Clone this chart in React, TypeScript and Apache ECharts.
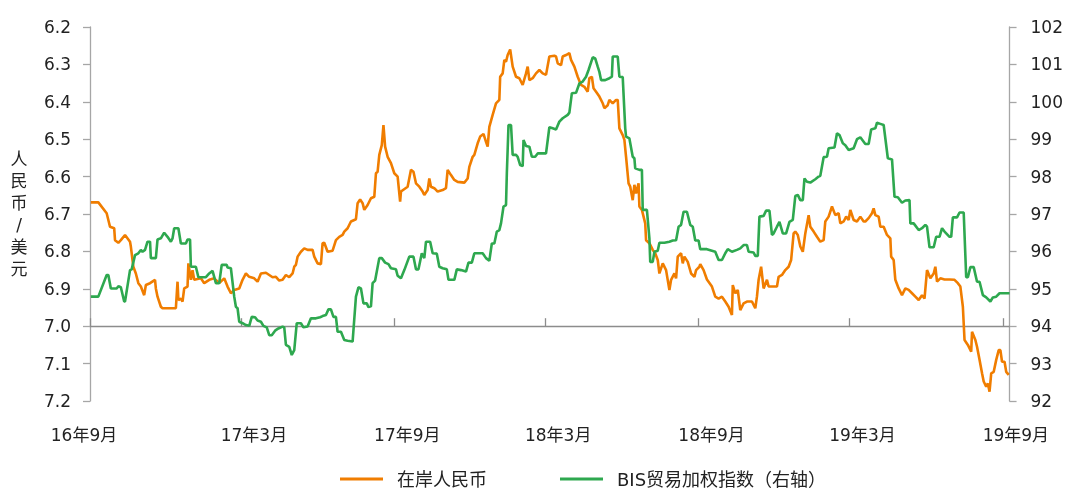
import React, { useEffect, useRef } from 'react';
import * as echarts from 'echarts';

// ---- data ----
const START_DATE = '2016-09-01';
const END_DATE = '2019-09-09';
const xTickDates = ['2016-09-01', '2017-03-01', '2017-09-01', '2018-03-01', '2018-09-01', '2019-03-01', '2019-09-01'];
const xTickLabels = ['16年9月', '17年3月', '17年9月', '18年3月', '18年9月', '19年3月', '19年9月'];
const seriesNames = ['在岸人民币', 'BIS贸易加权指数（右轴）'];
const leftAxisName = '人民币/美元';
const leftRange = [6.2, 7.2];
const rightRange = [92, 102];

// [days since 2016-09-01, CNY per USD]
const cnyPoints: [number, number][] = [
  [1,6.669],[10,6.669],[20,6.698],[24,6.734],[29,6.738],[30,6.770],[34,6.777],[37,6.770],[42,6.756],[48,6.774],[49,6.787],[52,6.841],[55,6.859],[58,6.885],[61,6.894],[65,6.917],[67,6.890],[72,6.885],[78,6.876],[79,6.899],[81,6.921],[85,6.948],[87,6.952],[103,6.952],[105,6.881],[106,6.930],[109,6.926],[111,6.934],[113,6.899],[117,6.894],[118,6.832],[121,6.876],[123,6.850],[125,6.876],[133,6.872],[137,6.885],[143,6.876],[149,6.872],[155,6.885],[161,6.872],[165,6.894],[169,6.912],[173,6.903],[179,6.899],[183,6.876],[187,6.859],[191,6.868],[197,6.872],[201,6.881],[205,6.859],[211,6.857],[215,6.863],[219,6.869],[223,6.868],[227,6.878],[231,6.876],[235,6.863],[239,6.869],[243,6.859],[245,6.841],[247,6.836],[249,6.814],[253,6.801],[257,6.792],[261,6.796],[267,6.796],[269,6.814],[273,6.832],[277,6.834],[279,6.778],[281,6.777],[285,6.801],[291,6.798],[295,6.770],[299,6.761],[303,6.756],[305,6.747],[309,6.738],[313,6.720],[319,6.714],[321,6.671],[324,6.661],[327,6.671],[329,6.689],[333,6.676],[337,6.658],[341,6.654],[343,6.591],[345,6.587],[347,6.542],[350,6.516],[352,6.462],[354,6.520],[357,6.547],[361,6.564],[365,6.591],[369,6.600],[372,6.667],[373,6.640],[381,6.627],[385,6.582],[388,6.587],[391,6.618],[395,6.627],[399,6.640],[401,6.649],[405,6.636],[407,6.605],[409,6.627],[413,6.631],[417,6.640],[423,6.636],[427,6.631],[429,6.582],[433,6.596],[437,6.609],[441,6.614],[449,6.616],[453,6.605],[455,6.574],[459,6.547],[461,6.542],[465,6.511],[468,6.493],[472,6.486],[475,6.507],[477,6.520],[479,6.467],[483,6.435],[487,6.404],[491,6.395],[492,6.333],[495,6.324],[497,6.288],[499,6.293],[501,6.275],[504,6.260],[507,6.306],[511,6.333],[515,6.337],[519,6.355],[523,6.324],[525,6.306],[527,6.342],[531,6.337],[535,6.324],[539,6.315],[543,6.324],[547,6.328],[551,6.279],[557,6.277],[559,6.279],[561,6.297],[565,6.302],[567,6.279],[571,6.275],[575,6.270],[577,6.288],[581,6.306],[585,6.333],[589,6.355],[593,6.360],[597,6.373],[599,6.337],[602,6.333],[604,6.364],[607,6.373],[611,6.386],[615,6.404],[617,6.417],[621,6.409],[623,6.395],[627,6.404],[631,6.395],[633,6.395],[635,6.471],[639,6.489],[641,6.502],[643,6.547],[646,6.618],[648,6.627],[651,6.663],[653,6.622],[655,6.645],[658,6.618],[659,6.680],[662,6.689],[666,6.725],[667,6.770],[671,6.778],[675,6.796],[678,6.805],[681,6.823],[683,6.859],[687,6.832],[691,6.850],[695,6.903],[697,6.876],[701,6.859],[703,6.872],[705,6.814],[709,6.805],[711,6.832],[713,6.814],[717,6.828],[721,6.859],[725,6.868],[727,6.850],[731,6.841],[732,6.834],[736,6.850],[740,6.875],[746,6.894],[750,6.921],[754,6.926],[758,6.921],[762,6.934],[766,6.948],[770,6.970],[771,6.890],[774,6.912],[777,6.903],[780,6.957],[784,6.939],[788,6.934],[794,6.934],[798,6.952],[800,6.921],[802,6.876],[805,6.841],[808,6.899],[812,6.876],[814,6.894],[820,6.894],[824,6.894],[826,6.868],[830,6.863],[834,6.850],[838,6.841],[841,6.823],[844,6.752],[846,6.747],[849,6.756],[852,6.787],[855,6.801],[858,6.752],[862,6.703],[864,6.734],[868,6.747],[872,6.761],[876,6.774],[880,6.770],[882,6.720],[886,6.707],[890,6.680],[894,6.703],[898,6.698],[900,6.725],[904,6.720],[907,6.707],[910,6.716],[912,6.689],[916,6.716],[920,6.720],[924,6.707],[928,6.720],[930,6.720],[934,6.711],[938,6.698],[940,6.685],[942,6.703],[946,6.707],[948,6.734],[952,6.734],[956,6.756],[960,6.765],[961,6.814],[964,6.823],[966,6.876],[970,6.899],[974,6.917],[978,6.899],[982,6.903],[986,6.912],[990,6.921],[994,6.930],[998,6.917],[1001,6.926],[1004,6.850],[1008,6.872],[1012,6.859],[1014,6.841],[1016,6.881],[1020,6.872],[1025,6.875],[1031,6.875],[1037,6.876],[1041,6.885],[1044,6.894],[1047,6.948],[1049,7.037],[1053,7.050],[1057,7.068],[1058,7.015],[1062,7.037],[1064,7.055],[1067,7.090],[1070,7.126],[1072,7.148],[1075,7.162],[1077,7.153],[1079,7.175],[1081,7.126],[1084,7.122],[1087,7.090],[1090,7.064],[1092,7.064],[1094,7.095],[1097,7.095],[1099,7.122],[1102,7.130],
];

// [days since 2016-09-01, BIS trade-weighted index]
const bisPoints: [number, number][] = [
  [1,94.79],[10,94.79],[20,95.37],[22,95.37],[25,95.01],[32,95.01],[34,95.07],[37,95.04],[41,94.66],[42,94.66],[48,95.50],[50,95.52],[54,95.90],[58,95.95],[61,96.04],[63,95.99],[66,96.04],[69,96.26],[72,96.26],[73,95.82],[79,95.82],[81,96.32],[85,96.35],[89,96.50],[93,96.39],[97,96.26],[99,96.35],[101,96.62],[106,96.62],[109,96.21],[115,96.21],[117,96.32],[120,96.32],[121,95.59],[127,95.59],[130,95.31],[139,95.31],[143,95.41],[147,95.48],[151,95.15],[155,95.15],[158,95.64],[164,95.64],[165,95.57],[169,95.55],[173,94.79],[175,94.52],[177,94.48],[179,94.12],[183,94.08],[187,94.03],[191,94.01],[194,94.25],[198,94.24],[201,94.15],[205,94.12],[208,94.01],[212,93.97],[215,93.76],[218,93.76],[222,93.88],[226,93.94],[231,93.99],[233,93.97],[235,93.50],[239,93.45],[242,93.23],[245,93.36],[248,94.08],[253,94.08],[256,93.97],[261,93.99],[265,94.21],[271,94.21],[276,94.24],[279,94.27],[283,94.30],[286,94.45],[289,94.45],[292,94.25],[295,94.25],[297,93.85],[301,93.85],[305,93.63],[309,93.61],[315,93.59],[319,94.79],[322,95.04],[325,95.01],[328,94.61],[332,94.61],[334,94.51],[337,94.53],[339,95.15],[342,95.22],[344,95.46],[347,95.82],[350,95.82],[354,95.70],[358,95.66],[361,95.55],[367,95.52],[369,95.35],[373,95.28],[377,95.50],[383,95.86],[388,95.86],[391,95.52],[394,95.52],[398,95.95],[401,95.82],[403,96.26],[408,96.26],[411,95.95],[416,95.94],[419,95.59],[423,95.55],[428,95.52],[430,95.24],[437,95.24],[440,95.52],[445,95.50],[451,95.46],[454,95.70],[458,95.70],[461,95.95],[471,95.95],[475,95.82],[479,95.75],[482,96.21],[485,96.21],[488,96.53],[491,96.57],[493,96.75],[496,97.20],[499,97.24],[500,98.09],[502,99.38],[505,99.38],[507,98.58],[511,98.58],[513,98.53],[516,98.31],[519,98.28],[520,98.98],[523,98.82],[527,98.80],[530,98.53],[534,98.53],[537,98.62],[547,98.62],[551,99.32],[555,99.29],[559,99.26],[563,99.47],[567,99.56],[573,99.65],[575,99.71],[578,100.23],[583,100.24],[587,100.49],[591,100.54],[595,100.67],[598,100.85],[603,101.19],[606,101.16],[609,100.94],[611,100.80],[613,100.58],[618,100.58],[623,100.63],[626,100.67],[627,101.21],[633,101.21],[635,100.67],[639,100.66],[642,99.29],[643,99.07],[647,99.02],[651,98.53],[653,98.49],[654,98.22],[659,98.18],[662,98.18],[663,97.11],[668,97.11],[671,96.35],[672,95.72],[675,95.72],[677,95.99],[681,96.02],[683,96.23],[689,96.23],[695,96.26],[699,96.29],[703,96.30],[706,96.66],[709,96.71],[712,97.06],[716,97.06],[720,96.71],[723,96.66],[726,96.29],[730,96.29],[732,96.06],[740,96.06],[750,95.99],[754,95.77],[758,95.77],[762,95.95],[765,96.06],[770,95.99],[776,96.04],[780,96.08],[784,96.17],[788,96.17],[790,95.99],[796,95.97],[798,95.88],[801,95.88],[803,96.93],[808,96.95],[811,97.09],[815,97.09],[818,96.44],[820,96.48],[824,96.66],[827,96.79],[831,96.48],[835,96.48],[839,96.79],[843,96.84],[846,97.48],[849,97.51],[852,97.37],[855,97.37],[857,97.95],[860,97.86],[864,97.84],[870,97.93],[874,98.00],[876,98.02],[880,98.52],[884,98.53],[886,98.76],[893,98.78],[896,99.16],[899,99.11],[903,98.89],[906,98.84],[910,98.71],[916,98.76],[920,99.00],[924,99.05],[928,98.93],[930,98.87],[934,98.87],[937,99.26],[942,99.29],[944,99.44],[948,99.41],[952,99.38],[957,98.49],[962,98.46],[965,97.46],[969,97.45],[974,97.30],[978,97.36],[983,97.37],[984,96.75],[988,96.75],[994,96.57],[998,96.62],[1002,96.71],[1004,96.66],[1007,96.11],[1012,96.11],[1015,96.39],[1019,96.39],[1022,96.62],[1025,96.53],[1031,96.39],[1033,96.39],[1035,96.91],[1040,96.91],[1043,97.04],[1048,97.04],[1051,95.31],[1053,95.31],[1056,95.58],[1060,95.58],[1064,95.19],[1067,95.19],[1071,94.83],[1075,94.77],[1080,94.66],[1083,94.77],[1087,94.79],[1091,94.88],[1103,94.88],
];

// ---- styling ----
const ORANGE = '#F07D00';
const GREEN = '#2EA84F';
const TEXT = '#222222';
const FONT = '"DejaVu Sans", "Noto Sans CJK SC", sans-serif';
const W = 1066;
const H = 489;
const GRID = { left: 90, right: 55, top: 27, bottom: 88 };

const dayOf = (s: string) => (Date.parse(s) - Date.parse(START_DATE)) / 86400000;

export default function App() {
  const ref = useRef<HTMLDivElement>(null);

  useEffect(() => {
    document.body.style.margin = '0';
    if (!ref.current) return;
    const chart = echarts.init(ref.current, undefined, { renderer: 'svg' });
    const tickDays = xTickDates.map(dayOf);
    const gridH = H - GRID.top - GRID.bottom;
    // x axis crosses the left axis at 7.0
    const crossOffset = -gridH * (leftRange[1] - 7.0) / (leftRange[1] - leftRange[0]);

    chart.setOption({
      animation: false,
      textStyle: { fontFamily: FONT },
      grid: { ...GRID, containLabel: false },
      legend: {
        data: seriesNames,
        left: 335,
        top: 465,
        icon: 'rect',
        itemWidth: 43,
        itemHeight: 3,
        itemGap: 73,
        textStyle: { fontSize: 18, lineHeight: 18, color: TEXT, fontFamily: FONT, padding: [0, 0, 0, 9] },
      },
      xAxis: {
        type: 'value',
        min: 0,
        max: dayOf(END_DATE),
        position: 'bottom',
        offset: crossOffset,
        splitLine: { show: false },
        axisLine: { show: true, onZero: false, lineStyle: { color: '#8c8c8c', width: 1.3 } },
        axisTick: { show: true, inside: true, length: 8, customValues: tickDays, lineStyle: { color: '#8c8c8c', width: 1.3 } },
        axisLabel: {
          show: true,
          customValues: tickDays,
          margin: -crossOffset + 25,
          color: TEXT,
          fontSize: 17,
          fontFamily: FONT,
          formatter: (v: number) => {
            const i = tickDays.findIndex((d) => Math.abs(d - v) < 0.5);
            if (i < 0) return '';
            return i === 0 ? `{first|${xTickLabels[i]}}` : `{rest|${xTickLabels[i]}}`;
          },
          rich: {
            first: { fontSize: 17, color: TEXT, fontFamily: FONT, padding: [0, 12, 0, 0] },
            rest: { fontSize: 17, color: TEXT, fontFamily: FONT, padding: [0, 0, 0, 26] },
          },
        },
      },
      yAxis: [
        {
          type: 'value',
          inverse: true,
          min: leftRange[0],
          max: leftRange[1],
          interval: 0.1,
          position: 'left',
          name: leftAxisName.split('').join('\n'),
          nameLocation: 'middle',
          nameRotate: 0,
          nameGap: 71,
          nameTextStyle: { fontSize: 17, color: TEXT, lineHeight: 22, fontFamily: FONT, align: 'center', padding: [0, 0, 12, 0] },
          splitLine: { show: false },
          axisLine: { show: true, lineStyle: { color: '#a6a6a6', width: 1.3 } },
          axisTick: { show: true, length: 7, lineStyle: { color: '#a6a6a6', width: 1.3 } },
          axisLabel: { margin: 19, fontSize: 17, color: TEXT, fontFamily: FONT, formatter: (v: number) => v.toFixed(1) },
        },
        {
          type: 'value',
          min: rightRange[0],
          max: rightRange[1],
          interval: 1,
          position: 'right',
          splitLine: { show: false },
          axisLine: { show: true, lineStyle: { color: '#a6a6a6', width: 1.3 } },
          axisTick: { show: true, length: 7, lineStyle: { color: '#a6a6a6', width: 1.3 } },
          axisLabel: { margin: 21, fontSize: 17, color: TEXT, fontFamily: FONT },
        },
      ],
      series: [
        {
          name: seriesNames[0],
          type: 'line',
          yAxisIndex: 0,
          data: cnyPoints,
          showSymbol: false,
          symbol: 'none',
          color: ORANGE,
          lineStyle: { width: 2.6, color: ORANGE },
          itemStyle: { color: ORANGE },
        },
        {
          name: seriesNames[1],
          type: 'line',
          yAxisIndex: 1,
          data: bisPoints,
          showSymbol: false,
          symbol: 'none',
          color: GREEN,
          lineStyle: { width: 2.6, color: GREEN },
          itemStyle: { color: GREEN },
        },
      ],
    });
    return () => chart.dispose();
  }, []);

  return <div ref={ref} style={{ position: 'fixed', left: 0, top: 0, width: W, height: H }} />;
}
